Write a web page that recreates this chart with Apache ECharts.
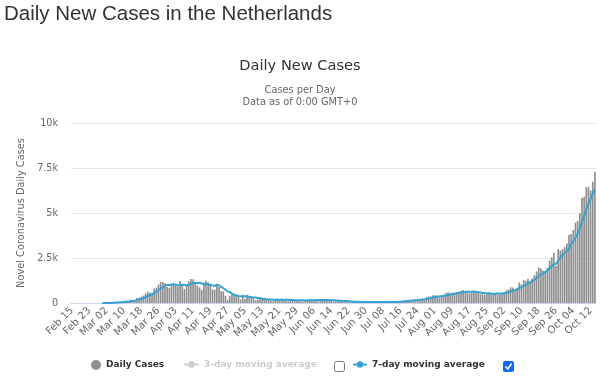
<!DOCTYPE html>
<html><head><meta charset="utf-8">
<script src="https://cdn.jsdelivr.net/npm/echarts@6/dist/echarts.min.js"></script>
<style>html,body{margin:0;padding:0;background:#fff}#c{width:600px;height:380px}</style>
</head><body><div id="c"></div>
<script>
// Month spans shown on the category axis (Feb 15 2020 .. Oct 14 2020)
var monthSpans = [['Feb',15,29],['Mar',1,31],['Apr',1,30],['May',1,31],['Jun',1,30],['Jul',1,31],['Aug',1,31],['Sep',1,30],['Oct',1,14]];

// Daily new cases, one array per month
var febCases = [0,0,0,0,0,0,0,0,0,0,0,0,1,1,5];
var marCases = [3,8,5,14,44,46,60,77,56,61,121,111,190,155,176,278,292,346,409,534,637,573,545,811,852,1019,1172,1159,1104,884,845];
var aprCases = [1019,1083,1026,904,1224,952,777,969,1213,1335,1316,1174,964,868,734,1061,1235,1140,1066,750,729,1066,887,655,655,400,171,386,514,475];
var mayCases = [445,335,199,387,232,453,369,319,227,145,178,255,196,236,196,186,124,99,217,229,219,175,159,137,99,151,200,182,169,145,98];
var junCases = [77,127,196,210,208,138,167,100,184,197,168,186,141,124,81,129,153,107,98,110,60,40,47,68,58,70,85,40,57,49];
var julCases = [46,54,60,78,57,28,31,53,65,69,52,44,35,102,82,124,117,134,144,159,121,196,189,218,223,223,221,326,362,365,434];
var augCases = [433,341,313,405,464,549,601,537,574,500,597,611,672,725,650,622,538,604,617,597,587,488,494,457,496,601,518,540,548,487,467];
var sepCases = [560,610,710,760,870,860,670,830,1140,1020,1270,1240,1330,1190,1370,1540,1750,1980,1920,1800,1730,1960,2360,2540,2780,2070,2990,2910,2990,3100];
var octCases = [3300,3780,3830,4050,4460,4560,4990,5830,5900,6430,6460,6250,6740,7290];

// 7-day moving average, one array per month
var febAvg = [null,null,null,null,null,null,null,null,null,null,null,null,null,null,1];
var marAvg = [1,3,3,5,11,18,26,36,43,51,66,76,97,110,124,156,189,221,264,313,382,438,477,551,623,710,801,876,952,1000,1005];
var aprAvg = [1029,1038,1017,981,998,1008,998,991,1009,1053,1112,1105,1107,1120,1086,1065,1050,1025,1010,979,959,1007,982,899,830,735,652,603,524,465];
var mayAvg = [435,389,361,392,370,361,346,328,312,305,275,278,241,222,205,199,196,185,179,184,181,178,175,176,176,167,163,158,157,155,149];
var junAvg = [146,143,142,146,152,151,160,164,172,172,166,163,163,157,154,147,140,132,119,115,105,100,88,76,69,65,61,58,61,61];
var julAvg = [58,57,56,55,57,53,51,52,53,54,51,49,50,60,64,73,79,91,105,123,126,142,151,166,179,190,199,228,252,277,308];
var augAvg = [338,355,368,379,394,420,444,459,492,519,546,567,585,602,618,625,631,632,633,622,602,579,561,549,534,531,520,513,522,521,522];
var sepAvg = [532,533,560,592,638,691,720,759,834,879,951,1004,1071,1146,1223,1280,1384,1486,1583,1650,1727,1811,1929,2041,2156,2177,2347,2516,2663,2769];
var octAvg = [2877,3020,3271,3423,3644,3869,4139,4500,4803,5174,5519,5774,6086,6300];

var yTickLabels = ['0','2.5k','5k','7.5k','10k'];

var categories = [];
monthSpans.forEach(function(m){
  for (var d = m[1]; d <= m[2]; d++) categories.push(m[0] + ' ' + (d < 10 ? '0' + d : '' + d));
});
var dailyCases = [].concat(febCases, marCases, aprCases, mayCases, junCases, julCases, augCases, sepCases, octCases);
var avg7 = [].concat(febAvg, marAvg, aprAvg, mayAvg, junAvg, julAvg, augAvg, sepAvg, octAvg);

var FF = "'DejaVu Sans', sans-serif";
var chart = echarts.init(document.getElementById('c'), null, {renderer: 'canvas'});
chart.setOption({
  animation: false,
  backgroundColor: '#fff',
  title: [
    {text: 'Daily New Cases in the Netherlands', left: 4, top: 4, padding: 0,
     textStyle: {fontFamily: "'Liberation Sans', Arial, sans-serif", fontSize: 20.5, fontWeight: 'normal', color: '#333'}},
    {text: 'Daily New Cases', left: 'center', top: 59, padding: 0,
     textStyle: {fontFamily: FF, fontSize: 14.6, fontWeight: 'normal', color: '#333'}},
    {text: 'Cases per Day\nData as of 0:00 GMT+0', left: 'center', top: 84, padding: 0,
     textStyle: {fontFamily: FF, fontSize: 9.8, fontWeight: 'normal', color: '#666', lineHeight: 12}}
  ],
  grid: {left: 71, right: 4, top: 123, bottom: 77},
  legend: [
    {data: ['Daily Cases'], left: 91, top: 360, padding: 0, icon: 'circle', itemWidth: 10, itemHeight: 10,
     textStyle: {fontFamily: FF, fontSize: 9, fontWeight: 'bold', color: '#333'}},
    {data: ['3-day moving average'], left: 183, top: 360, padding: 0, itemWidth: 15, itemHeight: 8,
     inactiveColor: '#ccc', selected: {'3-day moving average': false},
     textStyle: {fontFamily: FF, fontSize: 9, fontWeight: 'bold', color: '#333'}},
    {data: ['7-day moving average'], left: 352, top: 360, padding: 0, itemWidth: 14, itemHeight: 8,
     textStyle: {fontFamily: FF, fontSize: 9, fontWeight: 'bold', color: '#333'}}
  ],
  xAxis: {
    type: 'category', data: categories, boundaryGap: true,
    axisLine: {lineStyle: {color: '#ccd6eb'}},
    axisTick: {show: false},
    axisLabel: {interval: 7, rotate: 45, fontFamily: FF, fontSize: 10.2, color: '#666', margin: 6}
  },
  yAxis: {
    type: 'value', min: 0, max: 10000, interval: 2500,
    name: 'Novel Coronavirus Daily Cases', nameLocation: 'middle', nameRotate: 90, nameGap: 43,
    nameTextStyle: {fontFamily: FF, fontSize: 9.8, color: '#666'},
    axisLine: {show: false}, axisTick: {show: false},
    splitLine: {lineStyle: {color: '#e6e6e6'}},
    axisLabel: {fontFamily: FF, fontSize: 9.6, color: '#666', margin: 13,
      formatter: function(v){ return yTickLabels[Math.round(v / 2500)]; }}
  },
  series: [
    {name: 'Daily Cases', type: 'bar', data: dailyCases, barCategoryGap: '22%',
     itemStyle: {color: '#8f8f8f'}, emphasis: {disabled: true}},
    {name: '3-day moving average', type: 'line', data: [], symbol: 'circle', showSymbol: false,
     itemStyle: {color: '#999'}, lineStyle: {width: 2}},
    {name: '7-day moving average', type: 'line', data: avg7, smooth: 0.3, symbol: 'circle', showSymbol: false,
     itemStyle: {color: '#35a2d3'}, lineStyle: {width: 2, color: '#35a2d3'}, z: 5}
  ],
  graphic: [
    {type: 'rect', shape: {x: 334.5, y: 361.5, width: 10, height: 10, r: 2}, style: {fill: '#fff', stroke: '#767676', lineWidth: 1}},
    {type: 'rect', shape: {x: 503, y: 361, width: 11, height: 11, r: 2}, style: {fill: '#0b6cf0'}},
    {type: 'polyline', shape: {points: [[505.5, 366.5], [507.8, 369], [511.5, 363.5]]}, style: {stroke: '#fff', lineWidth: 1.6, fill: null}}
  ]
});
</script>
</body></html>
